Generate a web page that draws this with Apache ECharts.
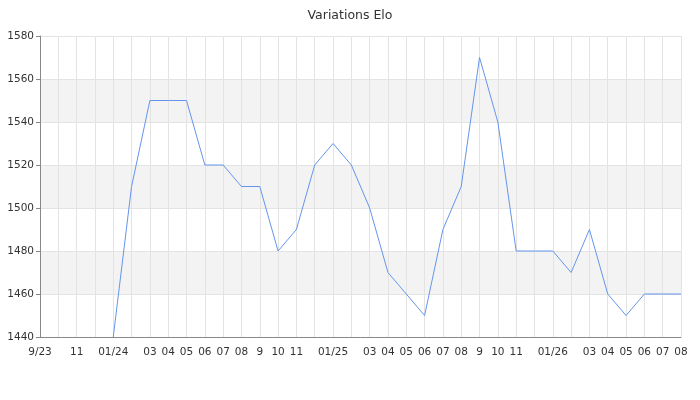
<!DOCTYPE html>
<html>
<head>
<meta charset="utf-8">
<script src="https://cdn.jsdelivr.net/npm/echarts@6/dist/echarts.min.js"></script>
<style>
  html, body { margin: 0; padding: 0; background: #fff; }
  #chart { width: 700px; height: 400px; }
</style>
</head>
<body>
<div id="chart"></div>
<script>
// monthly points, sep 2023 -> aug 2026
const months = [
  '9/23', '', '11', '', '01/24', '', '03', '04', '05', '06', '07', '08',
  '9', '10', '11', '', '01/25', '', '03', '04', '05', '06', '07', '08',
  '9', '10', '11', '', '01/26', '', '03', '04', '05', '06', '07', '08'
];
const elo = [
  null, null, null, null, 1440, 1510, 1550, 1550, 1550, 1520, 1520, 1510,
  1510, 1480, 1490, 1520, 1530, 1520, 1500, 1470, 1460, 1450, 1490, 1510,
  1570, 1540, 1480, 1480, 1480, 1470, 1490, 1460, 1450, 1460, 1460, 1460
];
const yTicks = { min: 1440, max: 1580, step: 20 };

const chart = echarts.init(document.getElementById('chart'));
const font = 'DejaVu Sans';

chart.setOption({
  animation: false,
  backgroundColor: '#fff',
  title: {
    text: 'Variations Elo',
    left: 'center',
    top: 4,
    textStyle: { fontFamily: font, fontSize: 12.5, fontWeight: 'normal', color: '#333' }
  },
  grid: { left: 40, right: 19, top: 36, bottom: 63 },
  xAxis: {
    type: 'category',
    data: months.map((m, i) => i),
    boundaryGap: false,
    axisLine: { lineStyle: { color: '#888' } },
    axisTick: { show: false },
    axisLabel: {
      interval: 0,
      margin: 10,
      fontFamily: font,
      fontSize: 10.5,
      color: '#333',
      formatter: (v) => months[v]
    },
    splitLine: { show: true, interval: 0, lineStyle: { color: '#e3e3e3', width: 1 } }
  },
  yAxis: {
    type: 'value',
    min: yTicks.min,
    max: yTicks.max,
    interval: yTicks.step,
    axisLine: { show: true, lineStyle: { color: '#888' } },
    axisTick: { show: true, length: 4, lineStyle: { color: '#888' } },
    axisLabel: { fontFamily: font, fontSize: 10.5, color: '#333', margin: 6, formatter: (v) => String(v) },
    splitLine: { lineStyle: { color: '#e3e3e3' } },
    splitArea: { show: true, areaStyle: { color: ['#ffffff', '#f3f3f3'] } }
  },
  series: [{
    type: 'line',
    data: elo,
    showSymbol: false,
    symbol: 'none',
    lineStyle: { color: '#6495ed', width: 1 },
    itemStyle: { color: '#6495ed' }
  }]
});
</script>
</body>
</html>
